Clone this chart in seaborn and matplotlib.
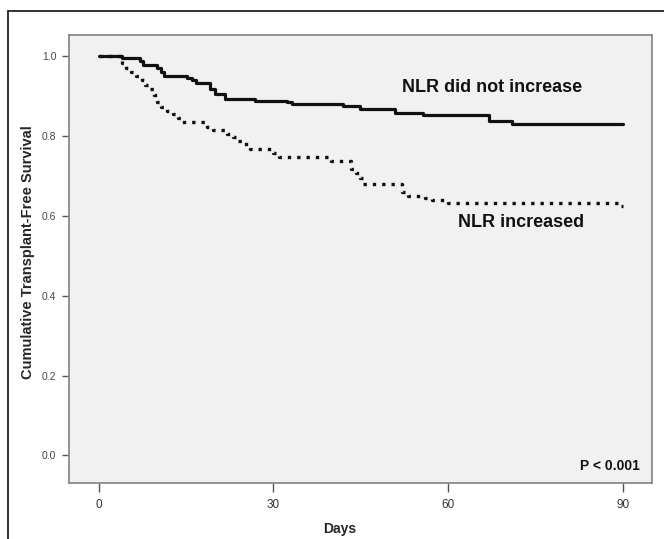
import pandas as pd
import matplotlib
matplotlib.use("Agg")
import matplotlib.pyplot as plt
from matplotlib.patches import Rectangle
import seaborn as sns


# Kaplan-Meier steps
days_stable = [0, 4.1, 7.1, 7.7, 10.0, 10.8, 11.2, 15.1, 16.0, 16.8, 19.1, 20.0,
               21.7, 26.8, 32.3, 33.1, 42.0, 44.9, 50.9, 55.7, 66.9, 70.9, 90.0]
surv_stable = [1.0, 0.994, 0.987, 0.977, 0.969, 0.961, 0.950, 0.946, 0.940, 0.932, 0.917, 0.905,
               0.893, 0.887, 0.884, 0.880, 0.876, 0.867, 0.857, 0.852, 0.838, 0.829, 0.829]

days_increased = [0, 4.0, 4.7, 5.5, 6.4, 7.4, 8.0, 8.9, 9.5, 10.0, 10.7, 11.7, 12.7, 13.6,
                  14.4, 18.6, 19.6, 22.0, 23.0, 24.0, 25.0, 26.0, 30.0, 31.0, 39.9, 43.3,
                  44.2, 44.9, 45.4, 52.1, 53.0, 56.0, 57.2, 60.0, 89.0, 90.0]
surv_increased = [1.0, 0.983, 0.969, 0.959, 0.950, 0.940, 0.927, 0.917, 0.902, 0.886, 0.873,
                  0.863, 0.854, 0.844, 0.834, 0.823, 0.815, 0.804, 0.796, 0.788, 0.779, 0.767,
                  0.756, 0.747, 0.738, 0.717, 0.708, 0.695, 0.679, 0.660, 0.650, 0.645, 0.640,
                  0.631, 0.625, 0.625]

x_ticks = [0, 30, 60, 90]
y_ticks = [0.0, 0.2, 0.4, 0.6, 0.8, 1.0]
y_tick_labels = ["0.0", "0.2", "0.4", "0.6", "0.8", "1.0"]

df_stable = pd.DataFrame({"Days": days_stable, "Survival": surv_stable})
df_increased = pd.DataFrame({"Days": days_increased, "Survival": surv_increased})


# Plot
sns.set_theme(style="white")
plt.rcParams["font.family"] = ["Liberation Sans", "DejaVu Sans"]

fig = plt.figure(figsize=(6.64, 5.39), dpi=100)
ax = fig.add_axes([0.1039, 0.1039, 0.878, 0.8312])
ax.set_facecolor("#f1f1f1")

sns.lineplot(data=df_increased, x="Days", y="Survival", ax=ax, color="#111111",
             linewidth=2.4, linestyle=(0, (1, 1.8)), dash_capstyle="butt",
             drawstyle="steps-post", estimator=None, sort=False)
sns.lineplot(data=df_stable, x="Days", y="Survival", ax=ax, color="#111111",
             linewidth=2.3, drawstyle="steps-post", estimator=None, sort=False)

ax.set_xlim(-5.06, 94.9)
ax.set_ylim(-0.069, 1.0526)
ax.set_xticks(x_ticks)
ax.set_yticks(y_ticks)
ax.set_yticklabels(y_tick_labels)

for spine in ax.spines.values():
    spine.set_color("#8a8a8a")
    spine.set_linewidth(1.3)

ax.tick_params(axis="x", bottom=True, direction="out", length=6.5, width=1,
               color="#555555", labelsize=8.5, labelcolor="#333333", pad=5)
ax.tick_params(axis="y", left=True, direction="out", length=5, width=1,
               color="#555555", labelsize=7.5, labelcolor="#444444", pad=4)

ax.set_xlabel("Days", fontsize=10, fontweight="bold", va="center")
ax.xaxis.set_label_coords(0.465, -0.103)
ax.set_ylabel("Cumulative Transplant-Free Survival", fontsize=10.5,
              fontweight="bold", va="center")
ax.yaxis.set_label_coords(-0.071, 0.5145)

ax.text(67.5, 0.910, "NLR did not increase", fontsize=13, fontweight="bold",
        ha="center", va="baseline", color="#111111")
ax.text(72.5, 0.572, "NLR increased", fontsize=13, fontweight="bold",
        ha="center", va="baseline", color="#111111")
ax.text(92.9, -0.036, "P < 0.001", fontsize=10, fontweight="bold",
        ha="right", va="baseline", color="#111111")

# outer frame (only left and top edges fall inside the image)
fig.add_artist(Rectangle((8 / 664, -0.1), 1.2, 1.1 - 11 / 539, transform=fig.transFigure,
                         fill=False, edgecolor="#222222", linewidth=1.3))

fig.savefig("out.png", dpi=100)
